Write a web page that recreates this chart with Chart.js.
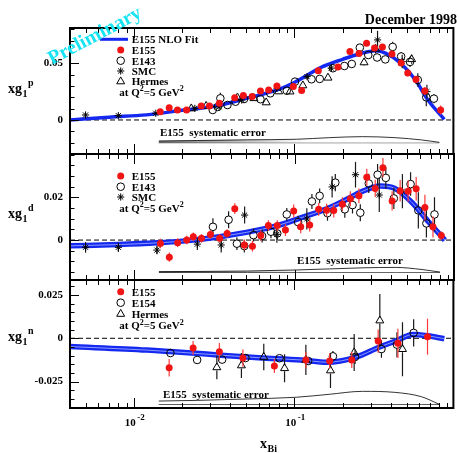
<!DOCTYPE html>
<html>
<head>
<meta charset="utf-8">
<script src="https://cdn.jsdelivr.net/npm/chart.js@4.4.1/dist/chart.umd.min.js"></script>
<style>
  html, body { margin: 0; padding: 0; background: #fff; }
  #wrap { position: relative; width: 459px; height: 453px; overflow: hidden; }
  #wrap canvas { position: absolute; left: 0; top: 0; }
</style>
</head>
<body>
<div id="wrap">
  <canvas id="protonChart" width="459" height="453"></canvas>
  <canvas id="deuteronChart" width="459" height="453"></canvas>
  <canvas id="neutronChart" width="459" height="453"></canvas>
</div>
<script>
// --- proton: xg1p ---
const pE155X = [0.0146, 0.0166, 0.0187, 0.0213, 0.0263, 0.0296, 0.0341, 0.0425, 0.0481, 0.0546, 0.0615, 0.0692, 0.0779, 0.0986, 0.111, 0.141, 0.187, 0.222, 0.253, 0.282, 0.316, 0.354, 0.406, 0.463, 0.509, 0.573, 0.650, 0.816];
const pE155Y = [0.0073, 0.0108, 0.0088, 0.0088, 0.0123, 0.0123, 0.0147, 0.0197, 0.0215, 0.0206, 0.0256, 0.0265, 0.0300, 0.0295, 0.0260, 0.0435, 0.0467, 0.0603, 0.0586, 0.0676, 0.0635, 0.0644, 0.0582, 0.0503, 0.0415, 0.0357, 0.0256, 0.0088];
const pE155E = [0.0012, 0.0012, 0.0012, 0.0012, 0.0012, 0.0012, 0.0012, 0.0013, 0.0013, 0.0013, 0.0014, 0.0014, 0.0015, 0.0015, 0.0016, 0.0017, 0.0018, 0.0019, 0.002, 0.002, 0.0022, 0.0024, 0.0026, 0.0028, 0.003, 0.0032, 0.0035, 0.004];

const pE143X = [0.0310, 0.0333, 0.0346, 0.0383, 0.0430, 0.0486, 0.0615, 0.0708, 0.0897, 0.101, 0.128, 0.144, 0.174, 0.205, 0.228, 0.256, 0.289, 0.328, 0.369, 0.410, 0.463, 0.526, 0.588, 0.664, 0.741];
const pE143Y = [0.0088, 0.0115, 0.0191, 0.0132, 0.0161, 0.0185, 0.0183, 0.0235, 0.0258, 0.0338, 0.0359, 0.0362, 0.0456, 0.0476, 0.0494, 0.0638, 0.0573, 0.0551, 0.0534, 0.0644, 0.0560, 0.0512, 0.0353, 0.0200, 0.0188];
const pE143E = [0.002, 0.002, 0.005, 0.002, 0.002, 0.002, 0.002, 0.002, 0.002, 0.002, 0.002, 0.002, 0.002, 0.0025, 0.0025, 0.003, 0.003, 0.003, 0.003, 0.0045, 0.004, 0.0045, 0.006, 0.008, 0.004];

const pSmcX = [0.005, 0.008, 0.0137, 0.024, 0.034, 0.047, 0.0546, 0.078, 0.12, 0.17, 0.33, 0.47, 0.67];
const pSmcY = [0.0044, 0.0038, 0.0059, 0.0103, 0.0117, 0.0176, 0.0206, 0.028, 0.0382, 0.0457, 0.0706, 0.0515, 0.025];
const pSmcE = [0.0012, 0.001, 0.001, 0.0012, 0.0015, 0.0015, 0.0015, 0.0018, 0.002, 0.0025, 0.008, 0.006, 0.006];

const pHermesX = [0.0228, 0.0282, 0.0442, 0.0560, 0.0668, 0.0798, 0.094, 0.113, 0.162, 0.272, 0.321, 0.538];
const pHermesY = [0.0101, 0.0123, 0.0197, 0.0191, 0.0154, 0.0251, 0.0250, 0.0304, 0.0372, 0.0507, 0.0626, 0.0535];
const pHermesE = [0.0012, 0.0012, 0.0015, 0.0015, 0.0015, 0.0018, 0.0018, 0.002, 0.0025, 0.003, 0.004, 0.004];

const fitPX = [0.004, 0.007, 0.012, 0.02, 0.033, 0.05, 0.08, 0.1, 0.15, 0.2, 0.25, 0.32, 0.37, 0.46, 0.57, 0.68, 0.86];
const fitPY = [0.0000, 0.0025, 0.0045, 0.0085, 0.0125, 0.019, 0.027, 0.033, 0.047, 0.0535, 0.058, 0.061, 0.059, 0.050, 0.035, 0.0176, 0.0006];

// --- deuteron: xg1d ---
const dE155X = [0.0146, 0.0166, 0.0187, 0.0213, 0.0234, 0.0263, 0.0299, 0.0341, 0.0380, 0.0424, 0.0486, 0.0546, 0.0615, 0.0686, 0.0779, 0.0876, 0.0986, 0.109, 0.124, 0.141, 0.158, 0.175, 0.198, 0.222, 0.251, 0.281, 0.317, 0.354, 0.404, 0.453, 0.508, 0.570, 0.646, 0.725, 0.817];
const dE155Y = [-0.0016, -0.0080, -0.0012, 0.0000, 0.0016, 0.0008, 0.0026, 0.0008, 0.0031, 0.0147, -0.0023, -0.0029, 0.0021, 0.0068, 0.0068, 0.0047, 0.0136, 0.0062, 0.0070, 0.0144, 0.0140, 0.0138, 0.0168, 0.0193, 0.0207, 0.0294, 0.0242, 0.0339, 0.0183, 0.0231, 0.0229, 0.0240, 0.0152, 0.0062, 0.0021];
const dE155E = [0.0022, 0.0022, 0.002, 0.002, 0.002, 0.002, 0.002, 0.002, 0.002, 0.0025, 0.0025, 0.0025, 0.0025, 0.0025, 0.0025, 0.0028, 0.003, 0.003, 0.003, 0.003, 0.003, 0.0032, 0.0032, 0.0035, 0.0035, 0.004, 0.004, 0.0045, 0.0045, 0.005, 0.005, 0.0055, 0.006, 0.005, 0.002];

const dE143X = [0.0310, 0.0388, 0.0437, 0.0486, 0.0554, 0.0627, 0.0712, 0.0779, 0.0893, 0.105, 0.128, 0.143, 0.160, 0.179, 0.205, 0.229, 0.256, 0.289, 0.328, 0.369, 0.414, 0.526, 0.588, 0.660, 0.741];
const dE143Y = [0.0062, 0.0095, -0.0017, -0.0028, 0.0023, 0.0019, 0.0039, 0.0031, 0.0120, 0.0084, 0.0181, 0.0207, 0.0126, 0.0269, 0.0144, 0.0164, 0.0128, 0.0265, 0.0306, 0.0291, 0.0195, 0.0262, 0.0139, 0.0078, 0.0120];
const dE143E = [0.004, 0.004, 0.003, 0.003, 0.003, 0.003, 0.003, 0.003, 0.003, 0.003, 0.0035, 0.0035, 0.0035, 0.004, 0.004, 0.004, 0.004, 0.0045, 0.005, 0.005, 0.005, 0.0055, 0.0085, 0.0066, 0.008];

const dSmcX = [0.005, 0.008, 0.0139, 0.0248, 0.0349, 0.0488, 0.0775, 0.119, 0.171, 0.239, 0.336, 0.468];
const dSmcY = [-0.0034, -0.0034, -0.0047, -0.0019, -0.0023, 0.0117, 0.0027, 0.0099, 0.0249, 0.0306, 0.0211, 0.0229];
const dSmcE = [0.0025, 0.0022, 0.002, 0.0028, 0.0035, 0.004, 0.004, 0.005, 0.005, 0.006, 0.008, 0.008];

const fitDX = [0.004, 0.008, 0.014, 0.02, 0.03, 0.05, 0.08, 0.11, 0.16, 0.21, 0.26, 0.34, 0.42, 0.53, 0.68, 0.86];
const fitDY = [-0.0027, -0.0021, -0.0013, -0.0005, 0.0010, 0.0036, 0.0070, 0.0105, 0.0148, 0.0190, 0.0226, 0.0253, 0.0242, 0.0180, 0.0086, 0.0000];

// --- neutron: xg1n ---
const nE155X = [0.0166, 0.0234, 0.0341, 0.0478, 0.0751, 0.118, 0.166, 0.228, 0.333, 0.442, 0.676];
const nE155Y = [-0.0170, -0.0056, -0.0077, -0.0114, -0.0160, -0.0125, -0.0131, -0.0125, -0.0016, -0.0029, 0.0009];
const nE155E = [0.005, 0.004, 0.005, 0.005, 0.004, 0.0048, 0.0045, 0.0046, 0.0067, 0.0084, 0.0104];

const nE154X = [0.0169, 0.0248, 0.0355, 0.0496, 0.0809, 0.122, 0.174, 0.239, 0.349, 0.436, 0.554];
const nE154Y = [-0.0085, -0.0125, -0.0123, -0.0114, -0.0115, -0.0131, -0.0104, -0.0108, -0.0062, -0.0037, 0.0031];
const nE154E = [0.002, 0.0015, 0.0015, 0.0015, 0.0015, 0.002, 0.003, 0.004, 0.005, 0.0072, 0.0079];

const nHermesX = [0.0329, 0.0468, 0.0645, 0.0869, 0.118, 0.168, 0.236, 0.341, 0.472];
const nHermesY = [-0.0168, -0.0157, -0.0108, -0.0173, -0.0125, -0.0186, -0.0082, 0.0102, -0.0063];
const nHermesE = [0.0068, 0.0072, 0.0077, 0.0081, 0.0087, 0.010, 0.0106, 0.0154, 0.0156];

const fitNX = [0.004, 0.012, 0.033, 0.06, 0.11, 0.16, 0.24, 0.34, 0.43, 0.55, 0.68, 0.86];
const fitNY = [-0.0048, -0.0068, -0.0096, -0.0112, -0.0125, -0.0138, -0.0110, -0.0050, -0.0015, 0.0022, 0.0014, -0.0003];

// E155 systematic error bands (upper edge over a flat base)
const sysX = [0.0143, 0.025, 0.051, 0.103, 0.165, 0.266, 0.425, 0.62, 0.80];
const sysPHigh = [-0.0185, -0.0181, -0.0175, -0.0170, -0.0156, -0.0147, -0.0156, -0.0176, -0.0197];
const sysPLow = [-0.0200, -0.0200, -0.0200, -0.0200, -0.0200, -0.0200, -0.0200, -0.0200, -0.0200];
const sysDHigh = [-0.0148, -0.0147, -0.0145, -0.0140, -0.0135, -0.0130, -0.0128, -0.0138, -0.0150];
const sysDLow = [-0.0151, -0.0151, -0.0151, -0.0151, -0.0151, -0.0151, -0.0151, -0.0151, -0.0151];
const sysNHigh = [-0.0362, -0.0358, -0.0350, -0.0340, -0.0323, -0.0306, -0.0312, -0.0337, -0.0381];
const sysNLow = [-0.0381, -0.0381, -0.0381, -0.0381, -0.0381, -0.0381, -0.0381, -0.0381, -0.0381];

const xTickDecades = ['-2', '-1'];

const SERIF = '"Liberation Serif", "Times New Roman", serif';
const BLUE = '#1428f0';
const RED = '#f01414';

const pts = (xs, ys) => xs.map((x, i) => ({ x: x, y: ys[i] }));

function redSeries(xs, ys, errs) {
    return {
        data: pts(xs, ys), errs: errs, errColor: '#ff3a3a', errGap: 0,
        pointStyle: 'circle', pointRadius: 3.5,
        pointBackgroundColor: RED, pointBorderColor: RED, pointBorderWidth: 0,
        order: 0
    };
}

function blackSeries(xs, ys, errs, style, radius, gap) {
    return {
        data: pts(xs, ys), errs: errs, errColor: '#1a1a1a', errGap: gap,
        pointStyle: style, pointRadius: radius,
        pointBackgroundColor: 'rgba(0,0,0,0)', pointBorderColor: '#000', pointBorderWidth: 1,
        order: 1
    };
}

function fitLine(xs, ys, width, color, order) {
    return {
        data: pts(xs, ys), showLine: true, borderColor: color, borderWidth: width,
        pointRadius: 0, cubicInterpolationMode: 'monotone', tension: 0.4, fill: false, order: order
    };
}

// light grey fade on the left end of the band
function greyFade(context) {
    const chart = context.chart;
    if (!chart.chartArea) return '#ddd';
    const x = chart.scales.x;
    const g = chart.ctx.createLinearGradient(x.getPixelForValue(0.0143), 0, x.getPixelForValue(0.12), 0);
    g.addColorStop(0, '#777');
    g.addColorStop(1, '#fff');
    return g;
}

function sysBand(xs, hi, lo, fillColor) {
    return [
        {
            data: pts(xs, hi), showLine: true, borderColor: '#000', borderWidth: 0.8,
            pointRadius: 0, cubicInterpolationMode: 'monotone', tension: 0.4,
            fill: '+1', backgroundColor: fillColor, order: 20
        },
        {
            data: pts(xs, lo), showLine: true, borderColor: '#000', borderWidth: 1,
            pointRadius: 0, fill: false, order: 21
        }
    ];
}

// vertical error bars, drawn just before each dataset's markers
const errorBars = {
    id: 'errorBars',
    beforeDatasetDraw(chart, args) {
        const ds = chart.data.datasets[args.index];
        if (!ds.errs) return;
        const meta = args.meta;
        const yScale = chart.scales[meta.yAxisID];
        const ctx = chart.ctx;
        ctx.save();
        ctx.strokeStyle = ds.errColor;
        ctx.lineWidth = 1.2;
        meta.data.forEach((pt, i) => {
            const v = ds.data[i].y, e = ds.errs[i];
            const top = yScale.getPixelForValue(v + e);
            const bot = yScale.getPixelForValue(v - e);
            const gap = ds.errGap || 0;
            ctx.beginPath();
            if (gap > 0) {
                if (pt.y - gap > top) { ctx.moveTo(pt.x, top); ctx.lineTo(pt.x, pt.y - gap); }
                if (pt.y + gap < bot) { ctx.moveTo(pt.x, pt.y + gap); ctx.lineTo(pt.x, bot); }
            } else {
                ctx.moveTo(pt.x, top);
                ctx.lineTo(pt.x, bot);
            }
            ctx.stroke();
        });
        ctx.restore();
    }
};

function font(size) { return 'bold ' + size + 'px ' + SERIF; }

function drawMarker(ctx, kind, x, y) {
    ctx.save();
    ctx.lineWidth = 1;
    ctx.strokeStyle = '#000';
    ctx.beginPath();
    if (kind === 'line') {
        ctx.strokeStyle = BLUE;
        ctx.lineWidth = 3;
        ctx.moveTo(100, y);
        ctx.lineTo(128, y);
        ctx.stroke();
    } else if (kind === 'dot') {
        ctx.fillStyle = RED;
        ctx.arc(x, y, 3.5, 0, Math.PI * 2);
        ctx.fill();
    } else if (kind === 'circle') {
        ctx.arc(x, y, 3.8, 0, Math.PI * 2);
        ctx.stroke();
    } else if (kind === 'star') {
        const r = 3.6, d = r * Math.SQRT1_2;
        ctx.moveTo(x - r, y); ctx.lineTo(x + r, y);
        ctx.moveTo(x, y - r); ctx.lineTo(x, y + r);
        ctx.moveTo(x - d, y - d); ctx.lineTo(x + d, y + d);
        ctx.moveTo(x - d, y + d); ctx.lineTo(x + d, y - d);
        ctx.stroke();
    } else if (kind === 'triangle') {
        const r = 4.6;
        ctx.moveTo(x, y - r);
        ctx.lineTo(x + 0.866 * r, y + 0.5 * r);
        ctx.lineTo(x - 0.866 * r, y + 0.5 * r);
        ctx.closePath();
        ctx.stroke();
    }
    ctx.restore();
}

// "at Q^2=5 GeV^2" and similar runs with superscripts
function richText(ctx, x, y, parts, size) {
    parts.forEach(([t, mode]) => {
        ctx.font = font(mode ? Math.round(size * 0.75) : size);
        const dy = mode === 'sup' ? -size * 0.42 : (mode === 'sub' ? size * 0.3 : 0);
        ctx.fillText(t, x, y + dy);
        x += ctx.measureText(t).width;
    });
    return x;
}

function decor(cfg) {
    return {
        id: 'decor',
        beforeDatasetsDraw(chart) {
            const { ctx, chartArea: a } = chart;
            const y0 = chart.scales.y.getPixelForValue(0);
            ctx.save();
            ctx.setLineDash([5, 3]);
            ctx.strokeStyle = '#000';
            ctx.lineWidth = 1;
            ctx.beginPath();
            ctx.moveTo(a.left, y0);
            ctx.lineTo(a.right, y0);
            ctx.stroke();
            ctx.restore();
        },
        afterDraw(chart) {
            const { ctx, chartArea: a } = chart;
            const xs = chart.scales.x, ys = chart.scales.y;
            ctx.save();
            ctx.strokeStyle = '#000';
            ctx.fillStyle = '#000';

            // frame
            ctx.lineWidth = 2;
            ctx.strokeRect(a.left, a.top, a.right - a.left, a.bottom - a.top);

            // log ticks on top and bottom edges
            ctx.lineWidth = 1;
            ctx.beginPath();
            for (let p = -3; p <= -1; p++) {
                for (let m = 1; m <= 9; m++) {
                    const v = m * Math.pow(10, p);
                    if (v <= xs.min || v >= xs.max) continue;
                    const px = Math.round(xs.getPixelForValue(v)) + 0.5;
                    const len = m === 1 ? 10 : 5;
                    ctx.moveTo(px, a.bottom); ctx.lineTo(px, a.bottom - len);
                    ctx.moveTo(px, a.top); ctx.lineTo(px, a.top + len);
                }
            }
            // value ticks on the left edge
            const n0 = Math.ceil(ys.min / cfg.minorStep - 1e-6);
            for (let k = n0; k * cfg.minorStep <= ys.max + 1e-9; k++) {
                const v = k * cfg.minorStep;
                const major = cfg.majors.some(m => Math.abs(m - v) < 1e-7);
                const py = Math.round(ys.getPixelForValue(v)) + 0.5;
                ctx.moveTo(a.left, py);
                ctx.lineTo(a.left + (major ? 9 : 4.5), py);
            }
            ctx.stroke();

            // y title: xg1 with superscript
            const t = cfg.title;
            ctx.font = font(14);
            ctx.fillText('xg', 8, t.base);
            ctx.font = font(10);
            ctx.fillText('1', 22.5, t.base + 3.5);
            ctx.fillText(t.sup, 28, t.base - 7.5);

            // legend block
            cfg.legend.forEach(item => {
                drawMarker(ctx, item.kind, 120.7, item.y);
                ctx.fillStyle = '#000';
                ctx.font = font(11);
                ctx.fillText(item.label, 131.7, item.y + 3.8);
            });
            richText(ctx, 119.3, cfg.q2y, [['at Q'], ['2', 'sup'], ['=5 GeV'], ['2', 'sup']], 11);

            // systematic error caption
            ctx.font = font(11);
            ctx.fillText('E155  systematic error', cfg.sys.x, cfg.sys.y);

            if (cfg.top) {
                ctx.font = font(14);
                ctx.textAlign = 'right';
                ctx.fillText('December 1998', 457, 24);
                ctx.textAlign = 'left';
                ctx.save();
                ctx.translate(52, 65);
                ctx.rotate(-28 * Math.PI / 180);
                ctx.font = font(20);
                ctx.fillStyle = '#16e4f2';
                ctx.fillText('Preliminary', 0, 0);
                ctx.restore();
            }

            if (cfg.bottom) {
                xTickDecades.forEach(e => {
                    const px = xs.getPixelForValue(Math.pow(10, Number(e)));
                    ctx.font = font(11);
                    ctx.textAlign = 'right';
                    ctx.fillText('10', px + 2, 426);
                    ctx.textAlign = 'left';
                    ctx.font = font(9);
                    ctx.fillText(e, px + 3.5, 420);
                });
                ctx.font = font(14);
                ctx.fillText('x', 260, 448);
                ctx.font = font(10);
                ctx.fillText('Bi', 267.5, 452);
            }
            ctx.restore();
        }
    };
}

function makeChart(id, panel) {
    return new Chart(document.getElementById(id), {
        type: 'scatter',
        data: { datasets: panel.datasets },
        options: {
            responsive: false,
            animation: false,
            events: [],
            layout: { padding: { top: panel.top, bottom: 453 - panel.bottom, left: 0, right: 0 } },
            plugins: { legend: { display: false }, tooltip: { enabled: false } },
            scales: {
                x: { type: 'logarithmic', min: 0.004, max: 0.98, display: false },
                y: {
                    type: 'linear', min: panel.min, max: panel.max,
                    grid: { display: false, drawTicks: false },
                    border: { display: false },
                    ticks: {
                        color: '#000', padding: 7,
                        font: { family: SERIF, size: 11, weight: 'bold' },
                        callback: v => panel.labels[panel.decor.majors.indexOf(v)]
                    },
                    afterBuildTicks: s => { s.ticks = panel.decor.majors.map(v => ({ value: v })); },
                    afterFit: s => { s.width = 70; }
                }
            }
        },
        plugins: [errorBars, decor(panel.decor)]
    });
}

makeChart('protonChart', {
    top: 28, bottom: 154, min: -0.030, max: 0.0811,
    labels: ['0', '0.05'],
    datasets: [
        redSeries(pE155X, pE155Y, pE155E),
        blackSeries(pE143X, pE143Y, pE143E, 'circle', 3.8, 3.8),
        blackSeries(pSmcX, pSmcY, pSmcE, 'star', 3.6, 0),
        blackSeries(pHermesX, pHermesY, pHermesE, 'triangle', 4.6, 3),
        fitLine(fitPX, fitPY, 3.5, BLUE, 10),
        ...sysBand(sysX, sysPHigh, sysPLow, greyFade)
    ],
    decor: {
        majors: [0, 0.05], minorStep: 0.01,
        title: { base: 93.3, sup: 'p' },
        legend: [
            { kind: 'line', label: 'E155 NLO Fit', y: 39.3 },
            { kind: 'dot', label: 'E155', y: 50 },
            { kind: 'circle', label: 'E143', y: 60.7 },
            { kind: 'star', label: 'SMC', y: 71 },
            { kind: 'triangle', label: 'Hermes', y: 81.5 }
        ],
        q2y: 96,
        sys: { x: 160, y: 136 },
        top: true
    }
});

makeChart('deuteronChart', {
    top: 154, bottom: 280, min: -0.0187, max: 0.0403,
    labels: ['0', '0.02'],
    datasets: [
        redSeries(dE155X, dE155Y, dE155E),
        blackSeries(dE143X, dE143Y, dE143E, 'circle', 3.8, 3.8),
        blackSeries(dSmcX, dSmcY, dSmcE, 'star', 3.6, 0),
        fitLine(fitDX, fitDY, 1, '#8c9cff', 9),
        fitLine(fitDX, fitDY, 5.5, BLUE, 10),
        ...sysBand(sysX, sysDHigh, sysDLow, greyFade)
    ],
    decor: {
        majors: [0, 0.02], minorStep: 0.005,
        title: { base: 218.3, sup: 'd' },
        legend: [
            { kind: 'dot', label: 'E155', y: 176 },
            { kind: 'circle', label: 'E143', y: 186.7 },
            { kind: 'star', label: 'SMC', y: 197 }
        ],
        q2y: 211.7,
        sys: { x: 297, y: 264 }
    }
});

makeChart('neutronChart', {
    top: 280, bottom: 408, min: -0.0402, max: 0.0336,
    labels: ['-0.025', '0', '0.025'],
    datasets: [
        redSeries(nE155X, nE155Y, nE155E),
        blackSeries(nE154X, nE154Y, nE154E, 'circle', 3.8, 3.8),
        blackSeries(nHermesX, nHermesY, nHermesE, 'triangle', 4.6, 3),
        fitLine(fitNX, fitNY, 1, '#8c9cff', 9),
        fitLine(fitNX, fitNY, 5.5, BLUE, 10),
        ...sysBand(sysX, sysNHigh, sysNLow, '#fff')
    ],
    decor: {
        majors: [-0.025, 0, 0.025], minorStep: 0.005,
        title: { base: 341, sup: 'n' },
        legend: [
            { kind: 'dot', label: 'E155', y: 291.7 },
            { kind: 'circle', label: 'E154', y: 302.7 },
            { kind: 'triangle', label: 'Hermes', y: 314 }
        ],
        q2y: 329.3,
        sys: { x: 163, y: 397.5 },
        bottom: true
    }
});
</script>
</body>
</html>
